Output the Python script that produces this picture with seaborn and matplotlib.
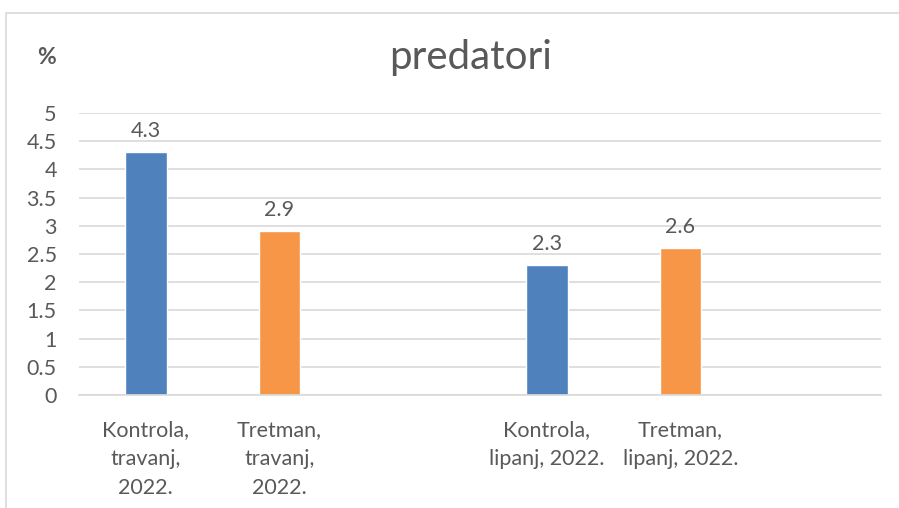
import matplotlib
matplotlib.use("Agg")
import matplotlib.pyplot as plt
import seaborn as sns
import pandas as pd
from matplotlib.patches import Rectangle
from matplotlib.ticker import FuncFormatter

# Chart data
categories = ["Kontrola,\ntravanj,\n2022.", "Tretman,\ntravanj,\n2022.", "",
              "Kontrola,\nlipanj, 2022.", "Tretman,\nlipanj, 2022.", " "]
bar_categories = ["Kontrola,\ntravanj,\n2022.", "Tretman,\ntravanj,\n2022.",
                  "Kontrola,\nlipanj, 2022.", "Tretman,\nlipanj, 2022."]
groups = ["Kontrola", "Tretman", "Kontrola", "Tretman"]
values = [4.3, 2.9, 2.3, 2.6]
y_ticks = [0, 0.5, 1, 1.5, 2, 2.5, 3, 3.5, 4, 4.5, 5]
title = "predatori"
y_unit = "%"

df = pd.DataFrame({"kategorija": bar_categories, "grupa": groups, "vrijednost": values})

sns.set_theme(style="white")
plt.rcParams["font.family"] = ["Lato", "DejaVu Sans"]
text_color = "#595959"
grid_color = "#D9D9D9"

fig = plt.figure(figsize=(8.99, 5.08), dpi=100)
ax = fig.add_axes([79 / 899, 1 - 395 / 508, 802 / 899, 282 / 508])

sns.barplot(data=df, x="kategorija", y="vrijednost", hue="grupa", order=categories,
            palette={"Kontrola": "#4F81BD", "Tretman": "#F79646"}, saturation=1,
            width=0.314, dodge=False, legend=False, ax=ax)

for cont in ax.containers:
    ax.bar_label(cont, fmt="%.1f", padding=8, fontsize=15.5, color=text_color)

ax.set_ylim(0, 5)
ax.set_xlim(-0.5, len(categories) - 0.5)
ax.set_yticks(y_ticks)
ax.yaxis.set_major_formatter(FuncFormatter(lambda v, p: f"{v:g}"))
ax.grid(axis="y", color=grid_color, linewidth=1.2)
ax.set_axisbelow(True)
for s in ["top", "right", "left"]:
    ax.spines[s].set_visible(False)
ax.spines["bottom"].set_color(grid_color)
ax.spines["bottom"].set_linewidth(1.2)
ax.tick_params(axis="both", length=0, labelsize=15.5, labelcolor=text_color)
ax.tick_params(axis="y", pad=16)
ax.tick_params(axis="x", pad=18)
for lbl in ax.get_xticklabels():
    lbl.set_linespacing(1.55)
ax.set_xlabel("")
ax.set_ylabel("")

fig.text(471 / 899, 1 - 58 / 508, title, ha="center", va="center",
         fontsize=29, color=text_color)
fig.text(47 / 899, 1 - 57 / 508, y_unit, ha="center", va="center",
         fontsize=16.5, fontweight="bold", color=text_color)

# chart area border
fig.add_artist(Rectangle((6 / 899, -0.1), 1.1, 1.1 - 13 / 508, transform=fig.transFigure,
                         fill=False, edgecolor=grid_color, linewidth=1.2))

fig.savefig("out.png", dpi=100)
